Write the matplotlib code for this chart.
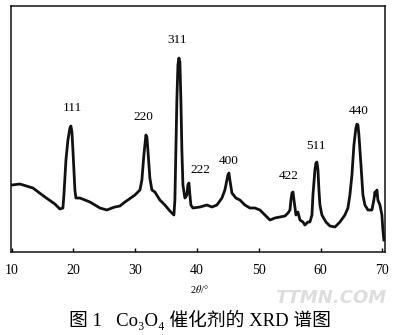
# Co3O4 催化剂 XRD 谱图
import numpy as np
import matplotlib.pyplot as plt

plt.rcParams['font.family'] = ['Liberation Serif', 'Noto Sans CJK SC', 'DejaVu Sans']
plt.rcParams['mathtext.fontset'] = 'stix'

# 衍射角 2θ (°) 与强度 (a.u.)
two_theta = [10.05, 11.34, 13.45, 15.39, 17.0, 17.81, 18.30, 18.46, 18.79, 19.11,
             19.43, 19.59, 19.76, 19.92, 20.24, 20.40, 21.05, 21.86, 22.67, 23.48,
             24.29, 25.42, 26.23, 26.71, 27.52, 28.33, 28.81, 29.95, 30.76, 31.08,
             31.40, 31.73, 31.89, 32.05, 32.37, 32.70, 33.18, 33.99, 34.80, 35.61,
             36.26, 36.42, 36.58, 36.74, 36.91, 37.07, 37.23, 37.39, 37.55, 37.72,
             38.04, 38.36, 38.52, 38.69, 38.85, 39.01, 39.33, 40.47, 41.60, 42.41,
             43.22, 44.03, 44.51, 45.00, 45.16, 45.32, 45.65, 46.29, 46.94, 47.75,
             48.56, 49.37, 50.18, 50.99, 51.80, 52.61, 53.42, 54.23, 54.72, 55.04,
             55.20, 55.36, 55.53, 55.69, 56.01, 56.33, 56.66, 57.14, 57.46, 57.95,
             58.27, 58.60, 58.76, 59.08, 59.24, 59.40, 59.57, 59.73, 59.89, 60.21,
             60.86, 61.51, 62.32, 63.13, 63.93, 64.42, 64.74, 65.07, 65.39, 65.71,
             65.88, 66.04, 66.20, 66.53, 66.85, 67.17, 67.66, 68.30, 68.62, 68.79,
             68.95, 69.11, 69.27, 69.60, 69.92, 70.08, 70.24]
intensity = [67, 68, 64, 55, 48, 43, 44, 57, 92, 112,
             124, 126, 120, 102, 62, 54, 54, 52, 50, 47,
             44, 42, 44, 45, 46, 50, 52, 57, 62, 72,
             97, 117, 115, 102, 74, 62, 60, 52, 47, 41,
             37, 52, 102, 152, 187, 194, 190, 152, 102, 67,
             54, 57, 67, 69, 57, 47, 44, 45, 47, 45,
             47, 54, 62, 77, 79, 72, 59, 54, 52, 47,
             44, 44, 42, 37, 32, 34, 35, 36, 39, 42,
             52, 59, 60, 52, 37, 40, 32, 30, 27, 30,
             30, 37, 57, 82, 89, 90, 82, 62, 47, 37,
             30, 26, 25, 30, 37, 44, 57, 77, 107, 124,
             128, 127, 117, 87, 57, 47, 42, 42, 52, 60,
             57, 62, 52, 47, 37, 22, 12]

# 晶面指数及对应峰位
hkl = ['111', '220', '311', '222', '400', '422', '511', '440']
peak_pos = [19.59, 31.73, 37.07, 38.69, 45.16, 55.53, 59.40, 65.88]
label_offset = [(1, 9), (-2, 9), (-1, 9), (8, 5), (0, 4), (-3, 7), (-1, 7), (1, 5)]

fig = plt.figure(figsize=(3.99, 3.35), dpi=100)
ax = fig.add_axes([0.0276, 0.2478, 0.937, 0.734])

ax.plot(two_theta, intensity, color='#111111', lw=2.0, solid_joinstyle='round')

for lab, pos, off in zip(hkl, peak_pos, label_offset):
    y = np.interp(pos, two_theta, intensity)
    ax.annotate(lab, (pos, y), xytext=off, textcoords='offset points',
                ha='center', va='bottom', fontsize=9.5)

ax.set_xlim(9.9, 70.4)
ax.set_ylim(0, 246)
ax.set_xticks([10, 20, 30, 40, 50, 60, 70])
ax.set_yticks([])
ax.tick_params(axis='x', direction='in', length=3, width=1, pad=9, labelsize=10)
for s in ax.spines.values():
    s.set_linewidth(1.1)
    s.set_color('#111111')

fig.text(0.499, 0.137, r'2$\theta$/°', ha='center', va='center', fontsize=7.5)
fig.text(0.5, 0.045, '图 1   Co₃O₄ 催化剂的 XRD 谱图', ha='center', va='center', fontsize=13.5)
fig.text(0.83, 0.11, 'TTMN.COM', ha='center', va='center', fontsize=13,
         color='#dddddd', fontweight='bold', style='italic', family='DejaVu Sans')

fig.savefig('out.png', dpi=100)
